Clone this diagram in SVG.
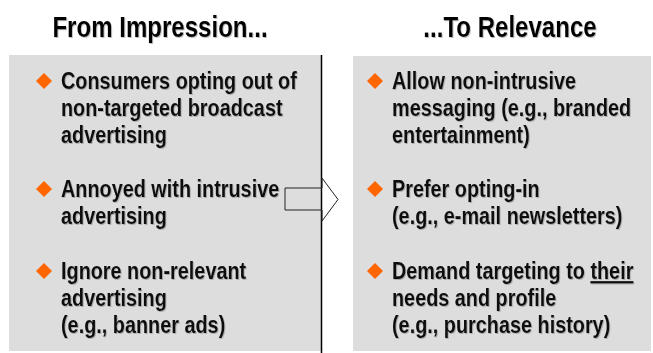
<svg xmlns="http://www.w3.org/2000/svg" width="653" height="353" viewBox="0 0 653 353">
<style>
.panel{fill:#dddddd;}
.title{font-family:"Liberation Sans",Arial,sans-serif;font-weight:bold;font-size:29px;fill:#000;text-anchor:middle;}
.body{font-family:"Liberation Sans",Arial,sans-serif;font-weight:bold;font-size:23px;fill:#111;}
.dia{fill:#ff6600;}
.conn{fill:none;stroke:#222;stroke-width:1;}
</style>
<defs>
<filter id="sh" x="-5%" y="-20%" width="110%" height="140%">
<feDropShadow dx="1" dy="1" stdDeviation="0.5" flood-color="#777" flood-opacity="0.5"/>
</filter>
<path id="d" d="M0,-8 L8,0 L0,8 L-8,0 Z"/>
</defs>
<g id="title-left"><g transform="translate(160,37) scale(0.83,1)"><text class="title" x="0" y="0" filter="url(#sh)">From Impression...</text></g></g>
<g id="title-right"><g transform="translate(510,37) scale(0.83,1)"><text class="title" x="0" y="0" filter="url(#sh)">...To Relevance</text></g></g>
<g id="panel-left">
<rect class="panel" x="9" y="55" width="312" height="296"/>
<line x1="321.5" y1="55" x2="321.5" y2="353" stroke="#000" stroke-width="1.5"/>
<use href="#d" class="dia" x="44" y="81"/>
<use href="#d" class="dia" x="44" y="189"/>
<use href="#d" class="dia" x="44" y="271"/>
<g transform="translate(61,0) scale(0.863,1)" filter="url(#sh)">
<text class="body" x="0" y="89">Consumers opting out of</text>
<text class="body" x="0" y="116">non-targeted broadcast</text>
<text class="body" x="0" y="143">advertising</text>
<text class="body" x="0" y="197">Annoyed with intrusive</text>
<text class="body" x="0" y="224">advertising</text>
<text class="body" x="0" y="279">Ignore non-relevant</text>
<text class="body" x="0" y="306">advertising</text>
<text class="body" x="0" y="333">(e.g., banner ads)</text>
</g>
</g>
<g id="panel-right">
<rect class="panel" x="353" y="56" width="298" height="295"/>
<use href="#d" class="dia" x="375" y="81"/>
<use href="#d" class="dia" x="375" y="189"/>
<use href="#d" class="dia" x="375" y="271"/>
<g transform="translate(392,0) scale(0.863,1)" filter="url(#sh)">
<text class="body" x="0" y="89">Allow non-intrusive</text>
<text class="body" x="0" y="116">messaging (e.g., branded</text>
<text class="body" x="0" y="143">entertainment)</text>
<text class="body" x="0" y="197">Prefer opting-in</text>
<text class="body" x="0" y="224">(e.g., e-mail newsletters)</text>
<text class="body" x="0" y="279">Demand targeting to <tspan text-decoration="underline">their</tspan></text>
<text class="body" x="0" y="306">needs and profile</text>
<text class="body" x="0" y="333">(e.g., purchase history)</text>
</g>
</g>
<g id="connectors">
<polygon class="conn" points="285,188 322,188 322,178 338,199.5 322,221 322,210 285,210"/>
</g>
</svg>
